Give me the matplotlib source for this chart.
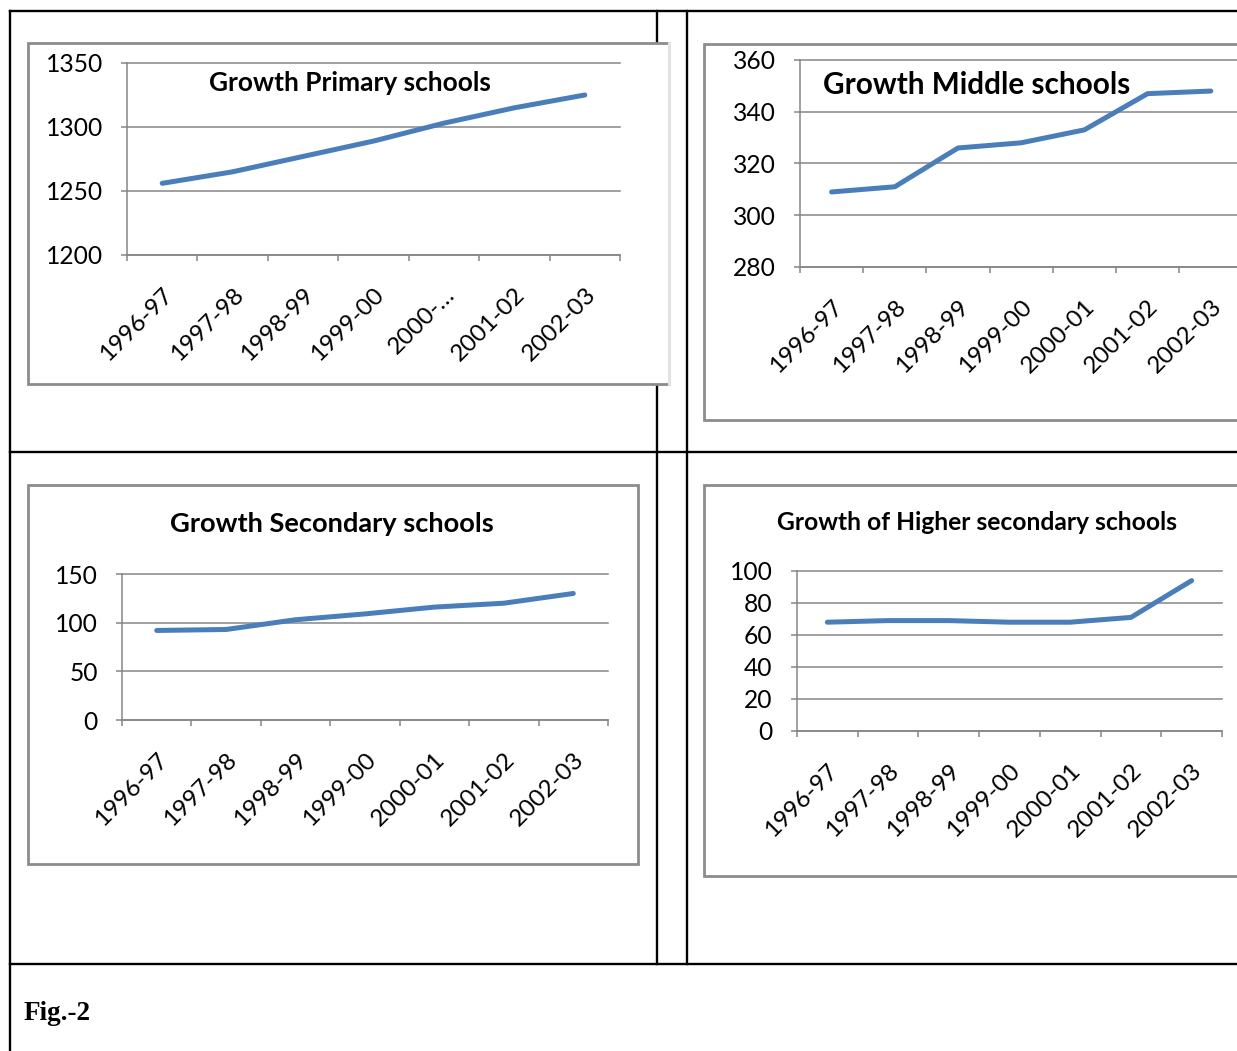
import numpy as np
import matplotlib
matplotlib.use('Agg')
import matplotlib.pyplot as plt
from matplotlib.lines import Line2D
from matplotlib.patches import Rectangle

W, H = 1237, 1051

years = ['1996-97', '1997-98', '1998-99', '1999-00', '2000-01', '2001-02', '2002-03']
# the primary chart shows a truncated label for 2000-01
primary_labels = ['1996-97', '1997-98', '1998-99', '1999-00', '2000-…', '2001-02', '2002-03']

primary = [1256, 1265, 1277, 1289, 1303, 1315, 1325]
middle = [309, 311, 326, 328, 333, 347, 348]
secondary = [92, 93, 103, 109, 116, 120, 130]
higher_sec = [68, 69, 69, 68, 68, 71, 94]

BLUE = '#4a7ebb'
GRID = '#868686'
BOX = '#8c8c8c'

plt.rcParams['font.family'] = ['Lato', 'DejaVu Sans']

fig = plt.figure(figsize=(W / 100, H / 100), dpi=100)


def fx(x):
    return x / W


def fy(y):
    return 1 - y / H


# table borders of the page
def hline(y, x0, x1):
    fig.add_artist(Line2D([fx(x0), fx(x1)], [fy(y), fy(y)], color='black', lw=1.7, zorder=1))


def vline(x, y0, y1):
    fig.add_artist(Line2D([fx(x), fx(x)], [fy(y0), fy(y1)], color='black', lw=1.7, zorder=1))


hline(11, 10, W)
hline(452, 10, W)
hline(964, 10, W)
vline(10, 11, H)
vline(657, 11, 964)
vline(687, 11, 964)


def chart_box(x0, y0, x1, y1):
    fig.add_artist(Rectangle((fx(x0), fy(y1)), fx(x1) - fx(x0), fy(y0) - fy(y1),
                             facecolor='white', edgecolor=BOX, lw=2, zorder=2))


chart_box(28, 43, 669, 384)
fig.add_artist(Line2D([fx(669), fx(669)], [fy(43), fy(384)], color='#e8e8e8', lw=2, zorder=2.1))
chart_box(704, 44, 1260, 420)
chart_box(28, 485, 638, 864)
chart_box(704, 485, 1260, 876)


def draw_chart(left, right, top, bottom, values, labels, ylim, step):
    ax = fig.add_axes([fx(left), fy(bottom), fx(right) - fx(left), fy(top) - fy(bottom)], zorder=3)
    ax.patch.set_visible(False)
    n = len(values)
    x = np.arange(n)
    ax.plot(x, values, color=BLUE, lw=3.6, solid_capstyle='round', solid_joinstyle='round',
            clip_on=False, zorder=3)
    ax.set_xlim(-0.5, n - 0.5)
    ax.set_ylim(*ylim)
    ax.set_yticks(np.arange(ylim[0], ylim[1] + step / 2, step))
    ax.set_xticks(np.arange(-0.5, n, 1))
    ax.set_xticklabels([])
    ax.set_xticks(x, minor=True)
    ax.set_xticklabels(labels, minor=True, rotation=45, ha='right', va='top',
                       rotation_mode='anchor')
    ax.tick_params(axis='x', which='major', length=4.5, width=1.1, color=GRID)
    ax.tick_params(axis='x', which='minor', length=0, pad=21, labelsize=17.5)
    ax.tick_params(axis='y', length=4.5, width=1.1, color=GRID, pad=13, labelsize=17.7)
    ax.grid(axis='y', color=GRID, lw=1.1)
    for gl in ax.get_ygridlines():
        gl.set_clip_on(False)
    for s in ['top', 'right']:
        ax.spines[s].set_visible(False)
    for s in ['left', 'bottom']:
        ax.spines[s].set_color(GRID)
        ax.spines[s].set_linewidth(1.1)
    return ax


draw_chart(127, 620, 63, 255, primary, primary_labels, (1200, 1350), 50)
draw_chart(800, 800 + 7 * 63.2, 60, 267, middle, years, (280, 360), 20)
draw_chart(122, 608, 574, 720, secondary, years, (0, 150), 50)
draw_chart(797, 1222, 571, 731, higher_sec, years, (0, 100), 20)

fig.text(fx(350), fy(83), 'Growth Primary schools', ha='center', va='center',
         fontsize=18.9, weight='bold', zorder=4)
fig.text(fx(977), fy(85), 'Growth Middle schools', ha='center', va='center',
         fontsize=21.4, weight='bold', zorder=4)
fig.text(fx(332), fy(524), 'Growth Secondary schools', ha='center', va='center',
         fontsize=19.6, weight='bold', zorder=4)
fig.text(fx(977), fy(522), 'Growth of Higher secondary schools', ha='center', va='center',
         fontsize=17.7, weight='bold', zorder=4)

fig.text(fx(24), fy(1014), 'Fig.-2', ha='left', va='center', fontsize=19.5,
         weight='bold', family='Liberation Serif')

fig.savefig('out.png', dpi=100)
